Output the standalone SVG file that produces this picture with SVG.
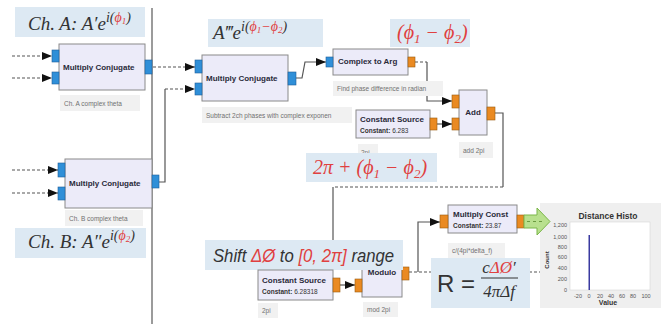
<svg xmlns="http://www.w3.org/2000/svg" width="661" height="324" viewBox="0 0 661 324">
<style>
.blk{fill:#ecebf9;stroke:#8a8a8a;stroke-width:1}
.pb{fill:#2f8fd8;stroke:#1f5f9a;stroke-width:.6}
.po{fill:#ea8a22;stroke:#9a5a10;stroke-width:.6}
.bt{font-family:"Liberation Sans",Arial,sans-serif;font-weight:bold;font-size:8px;fill:#2a2a3a}
.bs{font-family:"Liberation Sans",Arial,sans-serif;font-size:6.5px;fill:#333}
.lbl{fill:#f1f1f1}
.lt{font-family:"Liberation Sans",Arial,sans-serif;font-size:6.5px;fill:#707070}
.ann{fill:#dde9f3}
.math{font-family:"Liberation Serif","DejaVu Serif",serif;font-style:italic;fill:#333}
.red{fill:#e04040}
.solid{fill:none;stroke:#555;stroke-width:1.2}
.dash{fill:none;stroke:#555;stroke-width:1.2;stroke-dasharray:3 2}
.ht{font-family:"Liberation Sans",Arial,sans-serif;font-size:5.5px;fill:#555}
</style>
<defs>
<marker id="ah" markerUnits="userSpaceOnUse" markerWidth="11" markerHeight="9" refX="10" refY="4" orient="auto">
<path d="M0,0 L10,4 L0,8 z" fill="#111"/>
</marker>
</defs>
<rect width="661" height="324" fill="#ffffff"/>
<line x1="152" y1="8" x2="152" y2="324" stroke="#7a7a7a" stroke-width="1.5"/>

<g id="connectors">
<path class="dash" d="M12,56 H52" marker-end="url(#ah)"/>
<path class="dash" d="M12,78 H52" marker-end="url(#ah)"/>
<path class="dash" d="M12,170 H58" marker-end="url(#ah)"/>
<path class="dash" d="M12,193 H58" marker-end="url(#ah)"/>
<path class="dash" d="M153,67 H195" marker-end="url(#ah)"/>
<path class="solid" d="M159,182 H165 V89"/>
<path class="dash" d="M165,89 H195" marker-end="url(#ah)"/>
<path class="solid" d="M296,78 H302 L305,62 H326" marker-end="url(#ah)"/>
<path class="dash" d="M415,62 H427"/>
<path class="solid" d="M427,62 V101 H452" marker-end="url(#ah)"/>
<path class="solid" d="M437,124 H452" marker-end="url(#ah)"/>
<path class="solid" d="M495,113 H503 V187"/>
<path class="dash" d="M503,187 H333"/>
<path class="solid" d="M333,187 V245"/>
<path class="solid" d="M340,285 H355" marker-end="url(#ah)"/>
<path class="dash" d="M409,272 H540"/>
<path class="solid" d="M418,272 V222 H440" marker-end="url(#ah)"/>
</g>

<g id="chA-label">
<rect class="ann" x="15" y="7" width="130" height="30"/>
<text class="math" x="28" y="30" font-size="19">Ch. A: A′e<tspan dy="-8" font-size="14">i(</tspan><tspan class="red" font-size="14">ϕ</tspan><tspan class="red" font-size="9" dy="2">1</tspan><tspan font-size="14" dy="-2">)</tspan></text>
</g>

<g id="mcA">
<rect class="blk" x="59" y="44" width="86" height="46"/>
<rect class="pb" x="52" y="50" width="7" height="12"/>
<rect class="pb" x="52" y="72" width="7" height="12"/>
<rect class="pb" x="145" y="60" width="7" height="14"/>
<text class="bt" x="63" y="70">Multiply Conjugate</text>
<rect class="lbl" x="60" y="95" width="80" height="16"/>
<text class="lt" x="64" y="106">Ch. A complex theta</text>
</g>

<g id="mcB">
<rect class="blk" x="65" y="159" width="87" height="49"/>
<rect class="pb" x="58" y="163" width="7" height="14"/>
<rect class="pb" x="58" y="187" width="7" height="13"/>
<rect class="pb" x="152" y="175" width="7" height="13"/>
<text class="bt" x="69" y="186">Multiply Conjugate</text>
<rect class="lbl" x="65" y="210" width="78" height="16"/>
<text class="lt" x="69" y="221">Ch. B complex theta</text>
</g>

<g id="chB-label">
<rect class="ann" x="15" y="228" width="131" height="30"/>
<text class="math" x="28" y="248" font-size="19">Ch. B: A″e<tspan dy="-8" font-size="14">i(</tspan><tspan class="red" font-size="14">ϕ</tspan><tspan class="red" font-size="9" dy="2">2</tspan><tspan font-size="14" dy="-2">)</tspan></text>
</g>

<g id="mcMid">
<rect class="blk" x="202" y="55" width="86" height="46"/>
<rect class="pb" x="195" y="60" width="7" height="13"/>
<rect class="pb" x="195" y="83" width="7" height="12"/>
<rect class="pb" x="288" y="72" width="8" height="13"/>
<text class="bt" x="206" y="81">Multiply Conjugate</text>
<rect class="lbl" x="202" y="107" width="150" height="16"/>
<text class="lt" x="206" y="118">Subtract 2ch phases with complex exponen</text>
</g>

<g id="a3-label">
<rect class="ann" x="208" y="19" width="115" height="28"/>
<text class="math" x="213" y="39" font-size="19">A‴e<tspan dy="-8" font-size="14">i(</tspan><tspan class="red" font-size="14">ϕ</tspan><tspan class="red" font-size="9" dy="2">1</tspan><tspan class="red" font-size="14" dy="-2">−ϕ</tspan><tspan class="red" font-size="9" dy="2">2</tspan><tspan font-size="14" dy="-2">)</tspan></text>
</g>

<g id="phidiff-label">
<rect class="ann" x="390" y="19" width="80" height="28"/>
<text class="math red" x="397" y="39" font-size="20" font-style="normal">(<tspan font-style="italic">ϕ</tspan><tspan font-size="13" dy="4">1</tspan><tspan dy="-4"> − </tspan><tspan font-style="italic">ϕ</tspan><tspan font-size="13" dy="4">2</tspan><tspan dy="-4">)</tspan></text>
</g>

<g id="c2arg">
<rect class="blk" x="333" y="49" width="75" height="26"/>
<rect class="pb" x="326" y="57" width="7" height="10"/>
<rect class="po" x="408" y="57" width="7" height="10"/>
<text class="bt" x="338" y="64">Complex to Arg</text>
<rect class="lbl" x="333" y="81" width="110" height="15"/>
<text class="lt" x="337" y="91">Find phase difference in radian</text>
</g>

<g id="const1">
<rect class="lbl" x="358" y="144" width="20" height="16"/>
<text class="lt" x="361" y="155">2pi</text>
<rect class="blk" x="356" y="110" width="74" height="28"/>
<rect class="po" x="430" y="118" width="7" height="12"/>
<text class="bt" x="360" y="122">Constant Source</text>
<text class="bs" x="360" y="133"><tspan font-weight="bold">Constant:</tspan> 6.283</text>
</g>

<g id="add">
<rect class="blk" x="459" y="90" width="28" height="45"/>
<rect class="po" x="452" y="95" width="7" height="13"/>
<rect class="po" x="452" y="118" width="7" height="12"/>
<rect class="po" x="487" y="107" width="8" height="13"/>
<text class="bt" x="473" y="115" text-anchor="middle">Add</text>
<rect class="lbl" x="459" y="142" width="34" height="16"/>
<text class="lt" x="463" y="153">add 2pi</text>
</g>

<g id="twopi-label">
<rect class="ann" x="306" y="153" width="131" height="29"/>
<text class="math red" x="313" y="174" font-size="20" font-style="normal"><tspan font-style="italic">2π</tspan> + (<tspan font-style="italic">ϕ</tspan><tspan font-size="13" dy="4">1</tspan><tspan dy="-4"> − </tspan><tspan font-style="italic">ϕ</tspan><tspan font-size="13" dy="4">2</tspan><tspan dy="-4">)</tspan></text>
</g>

<g id="modulo">
<rect class="blk" x="362" y="262" width="40" height="35"/>
<rect class="po" x="355" y="279" width="7" height="13"/>
<rect class="po" x="402" y="267" width="7" height="13"/>
<text class="bt" x="382" y="275" text-anchor="middle">Modulo</text>
<rect class="lbl" x="363" y="302" width="35" height="15"/>
<text class="lt" x="367" y="312">mod 2pi</text>
</g>

<g id="shift-label">
<rect class="ann" x="205" y="240" width="198" height="30"/>
<text transform="scale(0.88,1)" x="242" y="262" font-family="Liberation Sans,Arial,sans-serif" font-style="italic" font-size="19" fill="#333">Shift <tspan class="red">ΔØ</tspan> to <tspan class="red">[0, 2π]</tspan> range</text>
</g>

<g id="const2">
<rect class="blk" x="258" y="270" width="75" height="30"/>
<rect class="po" x="333" y="278" width="7" height="14"/>
<text class="bt" x="262" y="283">Constant Source</text>
<text class="bs" x="262" y="294"><tspan font-weight="bold">Constant:</tspan> 6.28318</text>
<rect class="lbl" x="258" y="303" width="20" height="15"/>
<text class="lt" x="262" y="313">2pi</text>
</g>

<g id="mulconst">
<rect class="blk" x="448" y="205" width="69" height="28"/>
<rect class="po" x="440" y="215" width="8" height="13"/>
<rect class="po" x="517" y="215" width="7" height="13"/>
<text class="bt" x="453" y="217">Multiply Const</text>
<text class="bs" x="453" y="228"><tspan font-weight="bold">Constant:</tspan> 23.87</text>
<rect class="lbl" x="448" y="243" width="57" height="15"/>
<text class="lt" x="452" y="253">c/(4pi*delta_f)</text>
</g>

<g id="histogram">
<rect x="540" y="203" width="121" height="105" fill="#efefef"/>
<rect x="570" y="222" width="80" height="68" fill="#ffffff" stroke="#cfcfcf" stroke-width=".5"/>
<text x="608" y="219" text-anchor="middle" font-family="Liberation Sans,Arial,sans-serif" font-weight="bold" font-size="8.5px" fill="#333">Distance Histo</text>
<g text-anchor="end">
<text class="ht" x="567" y="227">1,200</text>
<text class="ht" x="567" y="239">1,000</text>
<text class="ht" x="567" y="249">800</text>
<text class="ht" x="567" y="259">600</text>
<text class="ht" x="567" y="270">400</text>
<text class="ht" x="567" y="281">200</text>
<text class="ht" x="567" y="292">0</text>
</g>
<g text-anchor="middle">
<text class="ht" x="578" y="298">-20</text>
<text class="ht" x="589" y="298">0</text>
<text class="ht" x="600" y="298">20</text>
<text class="ht" x="611" y="298">40</text>
<text class="ht" x="622" y="298">60</text>
<text class="ht" x="633" y="298">80</text>
<text class="ht" x="646" y="298">100</text>
</g>
<text x="549" y="260" text-anchor="middle" transform="rotate(-90 549 260)" font-family="Liberation Sans,Arial,sans-serif" font-weight="bold" font-size="6px" fill="#333">Count</text>
<text x="608" y="305" text-anchor="middle" font-family="Liberation Sans,Arial,sans-serif" font-weight="bold" font-size="7px" fill="#333">Value</text>
<rect x="588.5" y="235" width="1.5" height="55" fill="#3a3aa0"/>
</g>

<g id="green-arrow">
<path d="M524,215 H537 V208 L550,221.5 L537,235 V228 H524 Z" fill="#b8e08e" stroke="#7ab648" stroke-width="1"/>
<path d="M527,221.5 H542" stroke="#6a9a40" stroke-width="1" stroke-dasharray="3 3"/>
</g>

<g id="R-label">
<rect class="ann" x="431" y="258" width="99" height="50"/>
<text x="437" y="292" font-family="Liberation Sans,Arial,sans-serif" font-size="24" fill="#333">R =</text>
<text class="math" x="499" y="273" font-size="17" text-anchor="middle">c<tspan class="red">ΔØ</tspan>′</text>
<line x1="481" y1="278" x2="518" y2="278" stroke="#333" stroke-width="1"/>
<text class="math" x="499" y="297" font-size="17" text-anchor="middle">4πΔf</text>
</g>
</svg>
